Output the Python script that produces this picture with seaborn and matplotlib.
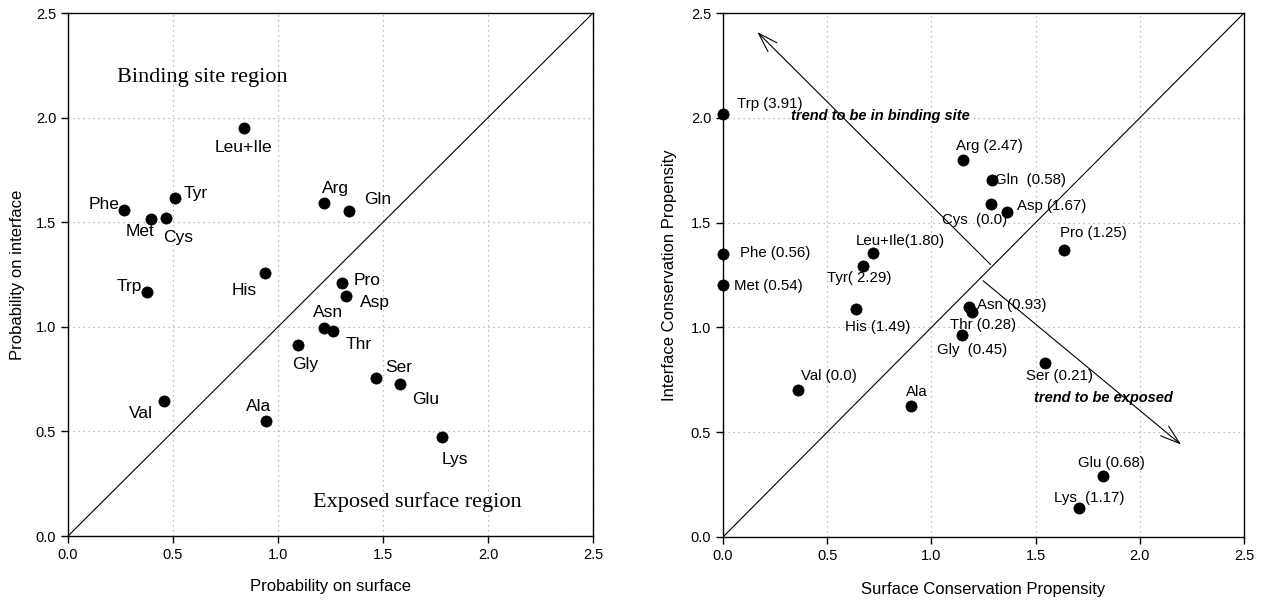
import matplotlib
matplotlib.use("Agg")
import matplotlib.pyplot as plt
import seaborn as sns
import pandas as pd

# ---------------- data ----------------
left_names = ["Leu+Ile", "Tyr", "Phe", "Met", "Cys", "Arg", "Gln", "His", "Trp",
              "Pro", "Asp", "Asn", "Thr", "Gly", "Ser", "Glu", "Val", "Ala", "Lys"]
left_surface = [0.84, 0.51, 0.265, 0.394, 0.465, 1.221, 1.339, 0.937, 0.377,
                1.305, 1.326, 1.221, 1.263, 1.095, 1.467, 1.581, 0.459, 0.945, 1.783]
left_interface = [1.95, 1.614, 1.56, 1.514, 1.519, 1.594, 1.556, 1.256, 1.167,
                  1.21, 1.146, 0.994, 0.979, 0.914, 0.756, 0.725, 0.645, 0.55, 0.471]
# label offsets (pixels)
left_dx = [-1, 21, -20, -11, 12, 11, 28, -21, -18, 25, 28, 4, 25, 7, 23, 26, -23, -8, 12]
left_dy = [-19, 5, 5, -12, -19, 14, 11, -17, 5, 2, -6, 16, -13, -20, 10, -15, -12, 14, -22]

right_labels = ["Trp (3.91)", "Arg (2.47)", "Gln  (0.58)", "Cys  (0.0)", "Asp (1.67)",
                "Pro (1.25)", "Phe (0.56)", "Leu+Ile(1.80)", "Tyr( 2.29)", "Met (0.54)",
                "His (1.49)", "Asn (0.93)", "Thr (0.28)", "Gly  (0.45)", "Ser (0.21)",
                "Val (0.0)", "Ala", "Glu (0.68)", "Lys  (1.17)"]
right_surface = [0.0, 1.150, 1.292, 1.284, 1.365, 1.635, 0.0, 0.722, 0.672, 0.0,
                 0.637, 1.180, 1.194, 1.146, 1.547, 0.361, 0.902, 1.825, 1.708]
right_interface = [2.017, 1.797, 1.702, 1.590, 1.550, 1.368, 1.350, 1.353, 1.292, 1.204,
                   1.089, 1.097, 1.073, 0.962, 0.828, 0.702, 0.624, 0.290, 0.140]
right_dx = [47, 27, 38, -16, 44, 30, 52, 27, -4, 45, 22, 43, 11, 10, 14, 31, 6, 8, 10]
right_dy = [10, 14, 0, -16, 6, 17, 1, 12, -12, -1, -18, 2, -13, -15, -13, 14, 14, 13, 10]

ticks = [0.0, 0.5, 1.0, 1.5, 2.0, 2.5]
tick_labels = ["0.0", "0.5", "1.0", "1.5", "2.0", "2.5"]

# trend arrows (tail, head) in data units
arrow_binding = [(1.284, 1.300), (0.165, 2.409)]
arrow_exposed = [(1.248, 1.223), (2.198, 0.441)]

# ---------------- style ----------------
sns.set_style("ticks")
plt.rcParams['font.family'] = ['Liberation Sans', 'DejaVu Sans']
plt.rcParams['text.color'] = 'black'
plt.rcParams['axes.labelcolor'] = 'black'
plt.rcParams['xtick.color'] = 'black'
plt.rcParams['ytick.color'] = 'black'

fig = plt.figure(figsize=(12.69, 6.05), dpi=100)
axL = fig.add_axes([0.0536, 0.114, 0.4137, 0.8645])
axR = fig.add_axes([0.5697, 0.1124, 0.4106, 0.866])

dfL = pd.DataFrame({"name": left_names, "surface": left_surface, "interface": left_interface})
dfR = pd.DataFrame({"name": right_labels, "surface": right_surface, "interface": right_interface})


def style_axes(ax):
    ax.set_xlim(0, 2.5)
    ax.set_ylim(0, 2.5)
    ax.set_xticks(ticks)
    ax.set_yticks(ticks)
    ax.set_xticklabels(tick_labels, fontsize=10.5)
    ax.set_yticklabels(tick_labels, fontsize=10.5)
    ax.grid(True, linestyle=(0, (1, 3)), color="#aaaaaa", linewidth=0.9)
    ax.set_axisbelow(True)
    for sp in ax.spines.values():
        sp.set_visible(True)
        sp.set_color("black")
        sp.set_linewidth(1.0)
    ax.tick_params(direction="out", length=5, width=1, colors="black")
    ax.plot([0, 2.5], [0, 2.5], color="black", lw=0.8, zorder=1)


# ---- left panel ----
style_axes(axL)
sns.scatterplot(data=dfL, x="surface", y="interface", color="black", s=65,
                edgecolor="black", linewidth=0.5, ax=axL, zorder=3, legend=False)
for n, x, y, dx, dy in zip(left_names, left_surface, left_interface, left_dx, left_dy):
    axL.annotate(n, (x, y), xytext=(dx, dy), textcoords="offset pixels",
                 ha="center", va="center", fontsize=12.5, color="black")
axL.text(0.638, 2.194, "Binding site region", family=["Liberation Serif", "DejaVu Serif"],
         fontsize=16, ha="center", va="center", color="black")
axL.text(1.665, 0.163, "Exposed surface region", family=["Liberation Serif", "DejaVu Serif"],
         fontsize=16, ha="center", va="center", color="black")
axL.set_xlabel("Probability on surface", fontsize=12, labelpad=12)
axL.set_ylabel("Probability on interface", fontsize=12, labelpad=8)

# ---- right panel ----
style_axes(axR)
sns.scatterplot(data=dfR, x="surface", y="interface", color="black", s=65,
                edgecolor="black", linewidth=0.5, ax=axR, zorder=3, legend=False,
                clip_on=False)
for n, x, y, dx, dy in zip(right_labels, right_surface, right_interface, right_dx, right_dy):
    axR.annotate(n, (x, y), xytext=(dx, dy), textcoords="offset pixels",
                 ha="center", va="center", fontsize=10.8, color="black")
for tail, head in (arrow_binding, arrow_exposed):
    axR.annotate("", xy=head, xytext=tail,
                 arrowprops=dict(arrowstyle="->,head_length=1.4,head_width=0.45",
                                 lw=0.8, color="black", shrinkA=0, shrinkB=0))
axR.text(0.754, 2.01, "trend to be in binding site", fontsize=10.5,
         fontweight="bold", fontstyle="italic", ha="center", va="center", color="black")
axR.text(1.826, 0.662, "trend to be exposed", fontsize=10.5,
         fontweight="bold", fontstyle="italic", ha="center", va="center", color="black")
axR.set_xlabel("Surface Conservation Propensity", fontsize=12, labelpad=14)
axR.set_ylabel("Interface Conservation Propensity", fontsize=12, labelpad=10)

fig.savefig("out.png", dpi=100)
